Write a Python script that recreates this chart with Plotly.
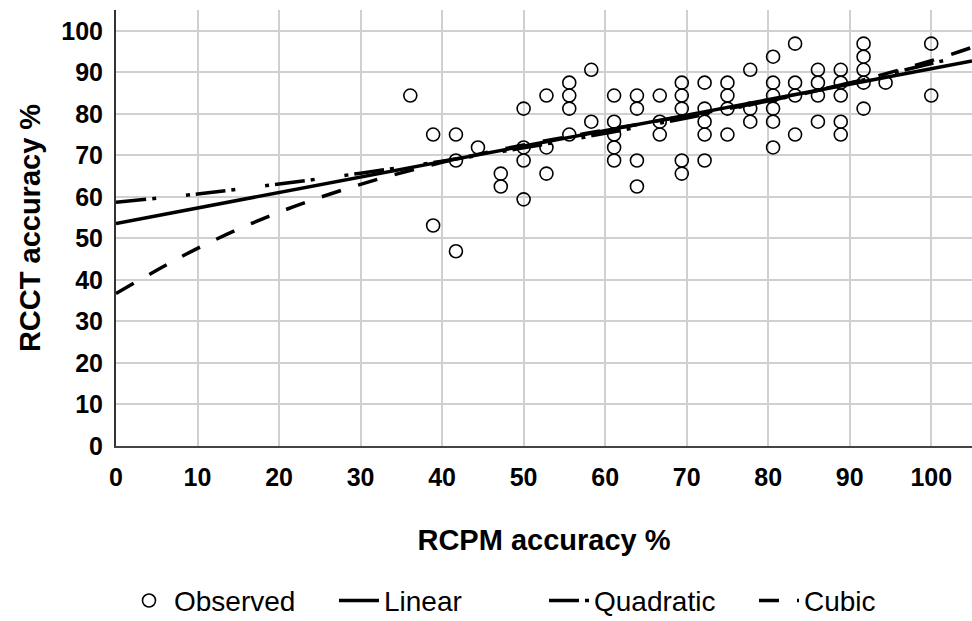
import plotly.graph_objects as go

# Observed data (RCPM accuracy %, RCCT accuracy %)
rcpm = [36.1,
        38.9, 38.9,
        41.7, 41.7, 41.7,
        44.4,
        47.2, 47.2,
        50.0, 50.0, 50.0, 50.0,
        52.8, 52.8, 52.8,
        55.6, 55.6, 55.6, 55.6,
        58.3, 58.3,
        61.1, 61.1, 61.1, 61.1, 61.1,
        63.9, 63.9, 63.9, 63.9,
        66.7, 66.7, 66.7,
        69.4, 69.4, 69.4, 69.4, 69.4,
        72.2, 72.2, 72.2, 72.2, 72.2,
        75.0, 75.0, 75.0, 75.0,
        77.8, 77.8, 77.8,
        80.6, 80.6, 80.6, 80.6, 80.6, 80.6,
        83.3, 83.3, 83.3, 83.3,
        86.1, 86.1, 86.1, 86.1,
        88.9, 88.9, 88.9, 88.9, 88.9,
        91.7, 91.7, 91.7, 91.7, 91.7,
        94.4,
        100.0, 100.0]
rcct = [84.4,
        75.0, 53.1,
        75.0, 68.75, 46.9,
        71.9,
        65.6, 62.5,
        81.25, 71.9, 68.75, 59.4,
        84.4, 71.9, 65.6,
        87.5, 84.4, 81.25, 75.0,
        90.6, 78.1,
        84.4, 78.1, 75.0, 71.9, 68.75,
        84.4, 81.25, 68.75, 62.5,
        84.4, 78.1, 75.0,
        87.5, 84.4, 81.25, 68.75, 65.6,
        87.5, 81.25, 78.1, 75.0, 68.75,
        87.5, 84.4, 81.25, 75.0,
        90.6, 81.25, 78.1,
        93.75, 87.5, 84.4, 81.25, 78.1, 71.9,
        96.9, 87.5, 84.4, 75.0,
        90.6, 87.5, 84.4, 78.1,
        90.6, 87.5, 84.4, 78.1, 75.0,
        96.9, 93.75, 90.6, 87.5, 81.25,
        87.5,
        96.9, 84.4]

# Fitted curves
linear_x = [0, 105]
linear_y = [53.6, 92.7]
fit_x = [0, 10, 20, 30, 40, 50, 60, 70, 80, 90, 100, 105]
quad_y = [58.7, 60.7, 63.1, 65.7, 68.6, 71.8, 75.3, 79.0, 83.1, 87.4, 92.1, 94.5]
cubic_y = [36.7, 47.6, 56.3, 63.0, 68.3, 72.5, 76.1, 79.5, 83.1, 87.4, 92.8, 96.0]

tick_vals = [0, 10, 20, 30, 40, 50, 60, 70, 80, 90, 100]

FONT = "Liberation Sans, Arial, sans-serif"

fig = go.Figure()
fig.add_trace(go.Scatter(
    x=rcpm, y=rcct, mode="markers", name="Observed",
    marker=dict(symbol="circle-open", size=13, color="black",
                line=dict(width=1.6, color="black")),
))
fig.add_trace(go.Scatter(
    x=linear_x, y=linear_y, mode="lines", name="Linear",
    line=dict(color="black", width=3.5),
))
fig.add_trace(go.Scatter(
    x=fit_x, y=quad_y, mode="lines", name="Quadratic", line_shape="spline",
    line=dict(color="black", width=3.5, dash="30px,6px,4px,30px,4px,6px"),
))
fig.add_trace(go.Scatter(
    x=fit_x, y=cubic_y, mode="lines", name="Cubic", line_shape="spline",
    line=dict(color="black", width=3.5, dash="20px,18px"),
))

fig.update_layout(
    width=972, height=621,
    margin=dict(l=116, r=0, t=10, b=175, autoexpand=False),
    paper_bgcolor="white", plot_bgcolor="white",
    font=dict(family=FONT, color="black"),
    showlegend=True,
    legend=dict(orientation="h", x=0.5, xanchor="center",
                y=-0.355, yanchor="middle",
                font=dict(size=28, family=FONT, color="black"),
                itemwidth=40, entrywidth=155, tracegroupgap=0),
)
fig.update_xaxes(
    range=[0, 105], tickvals=tick_vals, ticktext=[str(v) for v in tick_vals],
    showgrid=True, gridcolor="#d0d0d0", gridwidth=2,
    showline=True, linecolor="#444444", linewidth=2, zeroline=False,
    ticks="", ticklabelstandoff=8, automargin=False,
    tickfont=dict(size=25, family=FONT, weight="bold", color="black"),
    title=dict(text="RCPM accuracy %", standoff=40,
               font=dict(size=29, family=FONT, weight="bold", color="black")),
)
fig.update_yaxes(
    range=[0, 105], tickvals=tick_vals, ticktext=[str(v) for v in tick_vals],
    showgrid=True, gridcolor="#d0d0d0", gridwidth=2,
    showline=True, linecolor="#333333", linewidth=2, zeroline=False,
    ticks="", ticklabelstandoff=6, automargin=False,
    tickfont=dict(size=25, family=FONT, weight="bold", color="black"),
    title=dict(text="RCCT accuracy %", standoff=12,
               font=dict(size=29, family=FONT, weight="bold", color="black")),
)

fig.write_html("out.html", config={"displayModeBar": False},
               post_script="document.body.style.margin='0';document.body.style.overflow='hidden';")
